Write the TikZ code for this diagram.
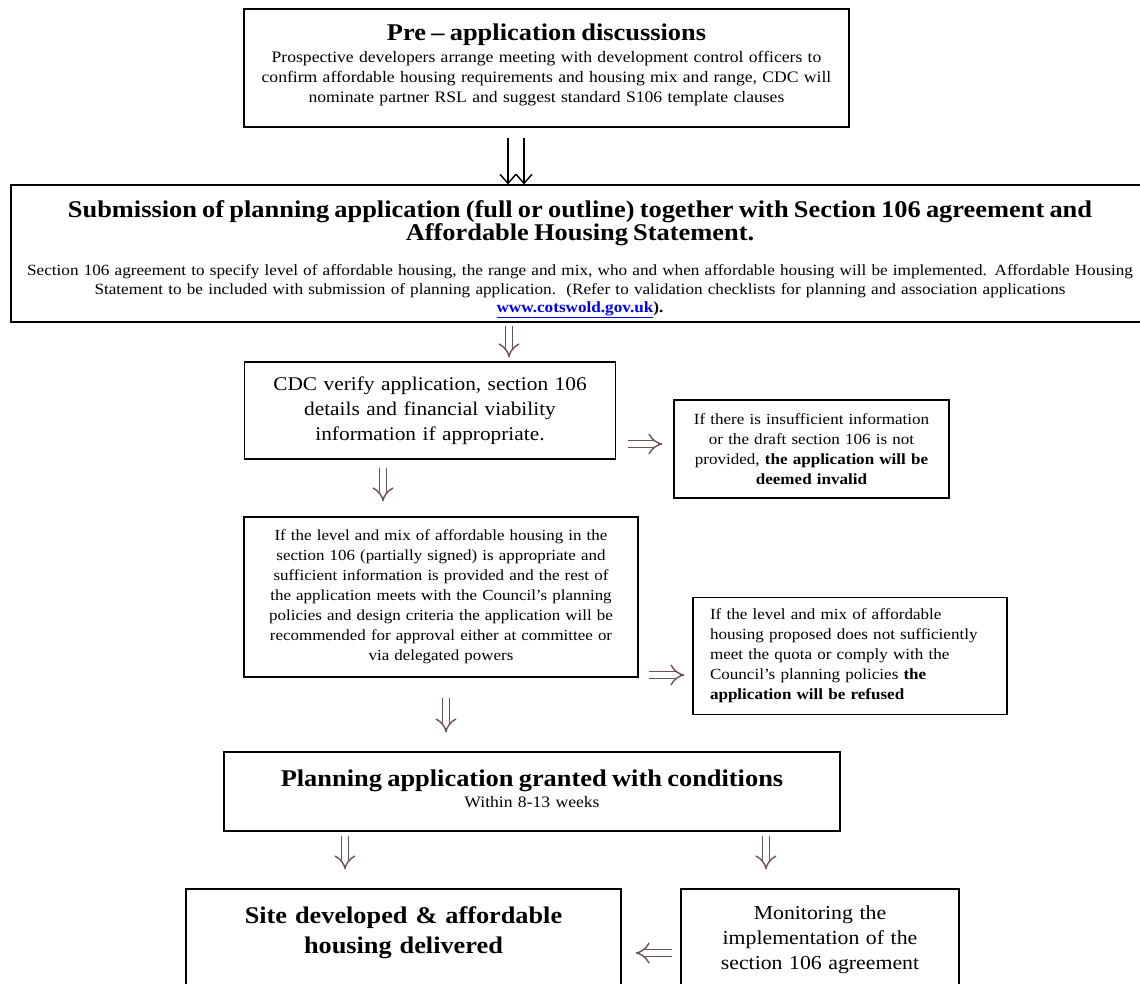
\documentclass[tikz,border=0pt]{standalone}
\usepackage{fontspec}
\setmainfont[FakeStretch=1.1]{Liberation Serif}
\usepackage{xcolor}
\usetikzlibrary{arrows.meta}
\usetikzlibrary{calc}

\definecolor{arrowbrown}{RGB}{110,82,82}
\definecolor{linkblue}{RGB}{0,0,238}

\tikzset{
  box/.style={draw=black, line width=1.3pt, inner sep=0pt, align=center},
  dblarrow/.style={draw=arrowbrown, double=white, double distance=6pt, line width=1.4pt, -{Implies}},
  thinarrow/.style={draw=black, line width=1.4pt, -{Straight Barb[length=9pt,width=16pt]}},
}

\newcommand{\titlesize}{\bfseries\fontsize{24}{23}\selectfont}
\newcommand{\padbelow}[1]{\par\vspace{#1}\hrule height 0pt width 0pt}
\newcommand{\padabove}[1]{\hrule height 0pt width 0pt\vspace{#1}}

\begin{document}
\begin{tikzpicture}[x=1pt,y=-1pt]
        \clip (0,0) rectangle (1140,983);
        \fill[white] (0,0) rectangle (1140,983);
        \node[box, minimum width=605pt, minimum height=118pt, text width=600pt, font=\fontsize{16}{20}\selectfont] (pre) at (546.5,68)
          {{\titlesize Pre – application discussions\par}\vspace{2pt}
           Prospective developers arrange meeting with development control officers to\\
           confirm affordable housing requirements and housing mix and range, CDC will\\
           nominate partner RSL and suggest standard S106 template clauses\padbelow{6pt}};
        \node[box, minimum width=1138pt, minimum height=137pt, text width=1134pt, font=\fontsize{15.6}{18.5}\selectfont] (sub) at (580,253.5)
          {\padabove{12pt}{\titlesize Submission of planning application (full or outline) together with Section 106 agreement and\\
           Affordable Housing Statement.\par}\vspace{16.5pt}
           Section 106 agreement to specify level of affordable housing, the range and mix, who and when affordable housing will be implemented. Affordable Housing\\
           Statement to be included with submission of planning application.\ \ (Refer to validation checklists for planning and association applications\\
           \textbf{{\color{linkblue}\underline{www.cotswold.gov.uk}}).}};
        \node[box, minimum width=371pt, minimum height=97pt, text width=365pt, font=\fontsize{19.4}{25}\selectfont] (cdc) at (430,410.5)
          {CDC verify application, section 106\\
           details and financial viability\\
           information if appropriate.};
        \node[box, minimum width=275pt, minimum height=98pt, text width=270pt, font=\fontsize{15.5}{20}\selectfont] (invalid) at (811.5,449)
          {If there is insufficient information\\
           or the draft section 106 is not\\
           provided, \textbf{the application will be\\
           deemed invalid}};
        \node[box, minimum width=394pt, minimum height=160pt, text width=388pt, font=\fontsize{15.4}{20}\selectfont] (big) at (441,597)
          {If the level and mix of affordable housing in the\\
           section 106 (partially signed) is appropriate and\\
           sufficient information is provided and the rest of\\
           the application meets with the Council’s planning\\
           policies and design criteria the application will be\\
           recommended for approval either at committee or\\
           via delegated powers};
        \node[box, align=left, minimum width=314pt, minimum height=117pt, text width=280pt, font=\fontsize{15.5}{20}\selectfont] (refused) at (850,656)
          {If the level and mix of affordable\\
           housing proposed does not sufficiently\\
           meet the quota or comply with the\\
           Council’s planning policies \textbf{the\\
           application will be refused}};
        \node[box, minimum width=616pt, minimum height=79pt, text width=610pt, font=\fontsize{16}{21}\selectfont] (granted) at (532,791.5)
          {{\titlesize Planning application granted with conditions\par}
           Within 8-13 weeks\padbelow{6pt}};
        \node[box, minimum width=435pt, minimum height=120pt, text width=430pt, font=\bfseries\fontsize{23.9}{30}\selectfont] (site) at (403.5,949)
          {Site developed \& affordable\\
           housing delivered\padbelow{32pt}};
        \node[box, minimum width=278pt, minimum height=120pt, text width=274pt, font=\fontsize{19.8}{25}\selectfont] (mon) at (820,949)
          {Monitoring the\\
           implementation of the\\
           section 106 agreement\padbelow{18pt}};
        \draw[thinarrow] ($(pre.south)+(-38.5,10)$) -- ($(sub.north)+(-72,0)$);
        \draw[thinarrow] ($(pre.south)+(-22.5,10)$) -- ($(sub.north)+(-56,0)$);
        \draw[dblarrow] ($(sub.south)+(-71,3)$) -- ($(cdc.north)+(79,-4)$);
        \draw[dblarrow] ($(cdc.east)+(11.5,33.5)$) -- ($(invalid.west)+(-11,-5)$);
        \draw[dblarrow] ($(cdc.south)+(-47,8)$) -- ($(big.north)+(-58,-15)$);
        \draw[dblarrow] ($(big.east)+(10,78)$) -- ($(refused.west)+(-8,19)$);
        \draw[dblarrow] ($(big.south)+(5,20)$) -- ($(granted.north)+(-86,-19)$);
        \draw[dblarrow] ($(granted.south)+(-187,4)$) -- ($(site.north)+(-58.5,-19)$);
        \draw[dblarrow] ($(granted.south)+(234,4)$) -- ($(mon.north)+(-54,-19)$);
        \draw[dblarrow] ($(mon.west)+(-8,4)$) -- ($(site.east)+(14,4)$);
\end{tikzpicture}
\end{document}
